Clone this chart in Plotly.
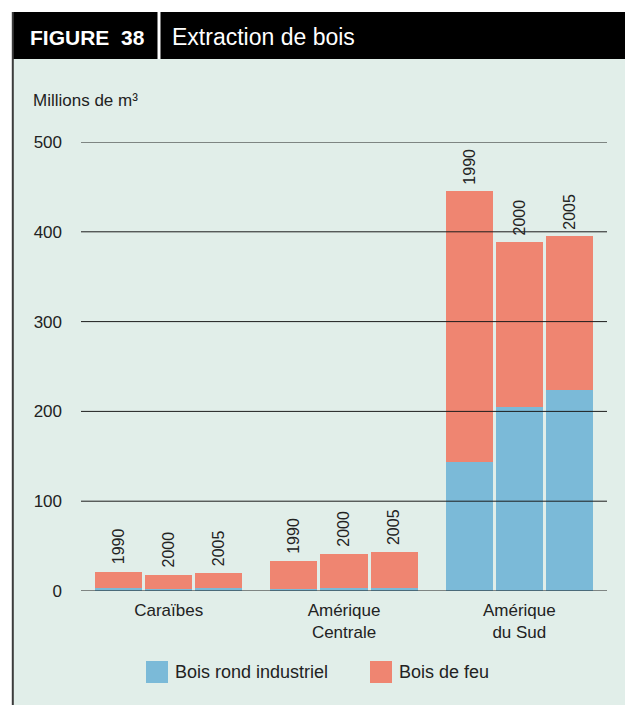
import plotly.graph_objects as go

# ---- data -------------------------------------------------------------
regions = ["Caraïbes", "Amérique<br>Centrale", "Amérique<br>du Sud"]
years = ["1990", "2000", "2005"]
industrial = [[3.5, 2.0, 3.5], [2.0, 3.5, 3.5], [144, 205, 224]]   # Bois rond industriel
fuelwood = [[18, 16, 16], [31.5, 38, 40], [301, 183.5, 171]]       # Bois de feu
series_names = ["Bois rond industriel", "Bois de feu"]
y_ticks = [0, 100, 200, 300, 400, 500]

# ---- styling ----------------------------------------------------------
FONT = "Liberation Sans, Arial, Helvetica, sans-serif"
BLUE = "#7BBAD8"
RED = "#EF8571"
PANEL = "#E1EEE9"
INK = "#222222"

W_FIG, H_FIG = 625, 705
ML, MR, MT, MB = 81, 18, 142, 114
PW = W_FIG - ML - MR
PH = H_FIG - MT - MB


def px_x(px):
    return (px - ML) / PW


def px_y(py):
    return (H_FIG - MB - py) / PH


# bar slots: three bars per region, half a slot between regions
GROUP_STEP = len(years) + 0.5
xs, ind_vals, fuel_vals, totals, year_lbls = [], [], [], [], []
for g in range(len(regions)):
    for i, yr in enumerate(years):
        xs.append(g * GROUP_STEP + i)
        ind_vals.append(industrial[g][i])
        fuel_vals.append(fuelwood[g][i])
        totals.append(industrial[g][i] + fuelwood[g][i])
        year_lbls.append(yr)
group_centers = [g * GROUP_STEP + (len(years) - 1) / 2 for g in range(len(regions))]

fig = go.Figure()
fig.add_trace(go.Bar(x=xs, y=ind_vals, name=series_names[0], width=0.94,
                     marker=dict(color=BLUE, line=dict(width=0)), showlegend=False))
fig.add_trace(go.Bar(x=xs, y=fuel_vals, name=series_names[1], width=0.94,
                     marker=dict(color=RED, line=dict(width=0)), showlegend=False))

shapes = []
# panel background and header band
shapes.append(dict(type="rect", xref="paper", yref="paper", layer="below",
                   x0=px_x(13), x1=px_x(625), y0=px_y(59), y1=px_y(705),
                   fillcolor=PANEL, line=dict(width=0)))
shapes.append(dict(type="rect", xref="paper", yref="paper", layer="below",
                   x0=px_x(12), x1=px_x(625), y0=px_y(12), y1=px_y(59),
                   fillcolor="black", line=dict(width=0)))
shapes.append(dict(type="rect", xref="paper", yref="paper", layer="below",
                   x0=px_x(157.5), x1=px_x(160.5), y0=px_y(12), y1=px_y(59),
                   fillcolor="white", line=dict(width=0)))
shapes.append(dict(type="line", xref="paper", yref="paper", layer="below",
                   x0=px_x(12.8), x1=px_x(12.8), y0=px_y(12), y1=px_y(705),
                   line=dict(color="#3c3c3c", width=2)))
# horizontal rules drawn over the bars
for t in y_ticks:
    shapes.append(dict(type="line", xref="paper", yref="y", layer="above",
                       x0=0, x1=1, y0=t, y1=t,
                       line=dict(color="#1c1c1c", width=1)))

annotations = []
for x, tot, yr in zip(xs, totals, year_lbls):
    annotations.append(dict(x=x, y=tot, xref="x", yref="y", text=yr,
                            textangle=-90, showarrow=False, yanchor="bottom",
                            xanchor="center", yshift=5,
                            font=dict(family=FONT, size=16, color=INK)))

annotations += [
    dict(x=px_x(28), y=px_y(37.5), xref="paper", yref="paper", text="<b>FIGURE&nbsp;&nbsp;38</b>",
         showarrow=False, xanchor="left", yanchor="middle",
         font=dict(family=FONT, size=21, color="white")),
    dict(x=px_x(170), y=px_y(37.5), xref="paper", yref="paper", text="Extraction de bois",
         showarrow=False, xanchor="left", yanchor="middle",
         font=dict(family=FONT, size=23, color="white")),
    dict(x=px_x(31), y=px_y(100), xref="paper", yref="paper", text="Millions de m³",
         showarrow=False, xanchor="left", yanchor="middle",
         font=dict(family=FONT, size=17, color=INK)),
]

# legend: swatch + label per series
legend_items = [(series_names[0], BLUE, 146), (series_names[1], RED, 370)]
for name, col, x0 in legend_items:
    shapes.append(dict(type="rect", xref="paper", yref="paper", layer="above",
                       x0=px_x(x0), x1=px_x(x0 + 22), y0=px_y(683), y1=px_y(661),
                       fillcolor=col, line=dict(width=0)))
    annotations.append(dict(x=px_x(x0 + 27), y=px_y(672), xref="paper", yref="paper",
                            text=name, showarrow=False, xanchor="left", yanchor="middle",
                            font=dict(family=FONT, size=18, color=INK)))

fig.update_layout(
    width=W_FIG, height=H_FIG, autosize=False,
    margin=dict(l=ML, r=MR, t=MT, b=MB, pad=0),
    paper_bgcolor="white", plot_bgcolor="rgba(0,0,0,0)",
    barmode="stack", bargap=0,
    showlegend=False,
    font=dict(family=FONT, color=INK),
    shapes=shapes, annotations=annotations,
    xaxis=dict(range=[-0.75, (len(regions) - 1) * GROUP_STEP + len(years) - 0.25],
               tickvals=group_centers, ticktext=regions,
               showgrid=False, zeroline=False, showline=False, ticks="",
               ticklabelstandoff=7, tickfont=dict(family=FONT, size=17, color=INK),
               fixedrange=True),
    yaxis=dict(range=[0, 500], tickvals=y_ticks,
               showgrid=False, zeroline=False, showline=False, ticks="",
               ticklabelstandoff=18, tickfont=dict(family=FONT, size=17, color=INK),
               fixedrange=True),
)

fig.write_html("out.html")
